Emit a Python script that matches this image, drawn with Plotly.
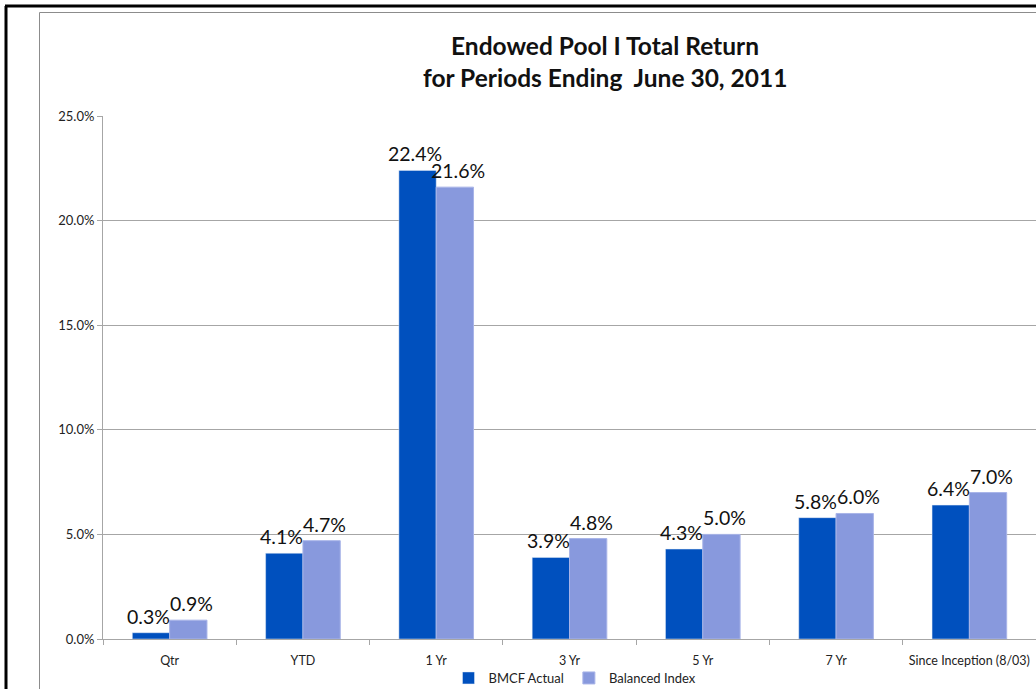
import plotly.graph_objects as go

categories = ["Qtr", "YTD", "1 Yr", "3 Yr", "5 Yr", "7 Yr", "Since Inception (8/03)"]
bmcf_actual = [0.3, 4.1, 22.4, 3.9, 4.3, 5.8, 6.4]
balanced_index = [0.9, 4.7, 21.6, 4.8, 5.0, 6.0, 7.0]
y_ticks = [0, 5, 10, 15, 20, 25]

W, H = 1036, 689
L, R, T, B = 103, 0, 116, 50
pw, ph = W - L - R, H - T - B

def px(x):
    return (x - L) / pw

def py(y):
    return (H - B - y) / ph

FONT = "Lato, Calibri, Carlito, sans-serif"

fig = go.Figure()
fig.add_trace(go.Bar(
    x=categories, y=bmcf_actual, name="BMCF Actual",
    marker=dict(color="#0050BE"),
))
fig.add_trace(go.Bar(
    x=categories, y=balanced_index, name="Balanced Index",
    marker=dict(color="#8899DD", line=dict(color="#A8B4E8", width=1)),
))

# data labels placed above each bar (offset to the bar's side within the group)
for series, shift in ((bmcf_actual, -21), (balanced_index, 22)):
    for c, v in zip(categories, series):
        fig.add_annotation(x=c, y=v, xref="x", yref="y", text=f"{v:.1f}%", showarrow=False,
                           xanchor="center", yanchor="bottom", xshift=shift, yshift=3,
                           font=dict(size=19.5, family=FONT, color="#111111"))

fig.update_layout(
    width=W, height=H,
    margin=dict(l=L, r=R, t=T, b=B, autoexpand=False),
    paper_bgcolor="white", plot_bgcolor="white",
    barmode="group", bargap=0.44, bargroupgap=0,
    font=dict(family=FONT, color="#222222"),
    showlegend=True,
    legend=dict(orientation="h", x=px(575), xanchor="center", y=py(678), yanchor="middle",
                font=dict(size=13, family=FONT), itemwidth=30, traceorder="normal",
                bgcolor="rgba(0,0,0,0)"),
)
fig.update_yaxes(
    range=[0, 25], tickvals=y_ticks, ticktext=[f"{v:.1f}%" for v in y_ticks],
    showgrid=True, gridcolor="#A6A6A6", gridwidth=1,
    showline=True, linecolor="#A6A6A6", linewidth=1,
    ticks="outside", ticklen=5, tickcolor="#A6A6A6",
    tickfont=dict(size=13, family=FONT, color="#222222"), zeroline=False,
)
fig.update_xaxes(
    showline=True, linecolor="#A6A6A6", linewidth=1, tickangle=0,
    ticks="outside", ticklen=5, tickcolor="#A6A6A6", tickson="boundaries",
    ticklabelstandoff=10,
    tickfont=dict(size=12.5, family=FONT, color="#222222"),
)

# title
fig.add_annotation(text="<b>Endowed Pool I Total Return</b>", xref="paper", yref="paper",
                   x=px(605), y=py(45), xanchor="center", yanchor="middle", showarrow=False,
                   font=dict(size=24.5, family=FONT, color="#111111"))
fig.add_annotation(text="<b>for Periods Ending  June 30, 2011</b>", xref="paper", yref="paper",
                   x=px(605), y=py(78), xanchor="center", yanchor="middle", showarrow=False,
                   font=dict(size=24.5, family=FONT, color="#111111"))

# outer black border (left & top)
fig.add_shape(type="line", xref="paper", yref="paper", x0=px(6), x1=px(6), y0=py(6), y1=py(700),
              line=dict(color="black", width=3))
fig.add_shape(type="line", xref="paper", yref="paper", x0=px(5), x1=px(1040), y0=py(6), y1=py(6),
              line=dict(color="black", width=3))
# chart area gray border
fig.add_shape(type="line", xref="paper", yref="paper", x0=px(39.5), x1=px(39.5), y0=py(12.5), y1=py(700),
              line=dict(color="#8C8C8C", width=1))
fig.add_shape(type="line", xref="paper", yref="paper", x0=px(39.5), x1=px(1040), y0=py(12.5), y1=py(12.5),
              line=dict(color="#8C8C8C", width=1))

fig.write_html("out.html", config={"displayModeBar": False},
               post_script="document.body.style.margin='0';document.body.style.overflow='hidden';")
